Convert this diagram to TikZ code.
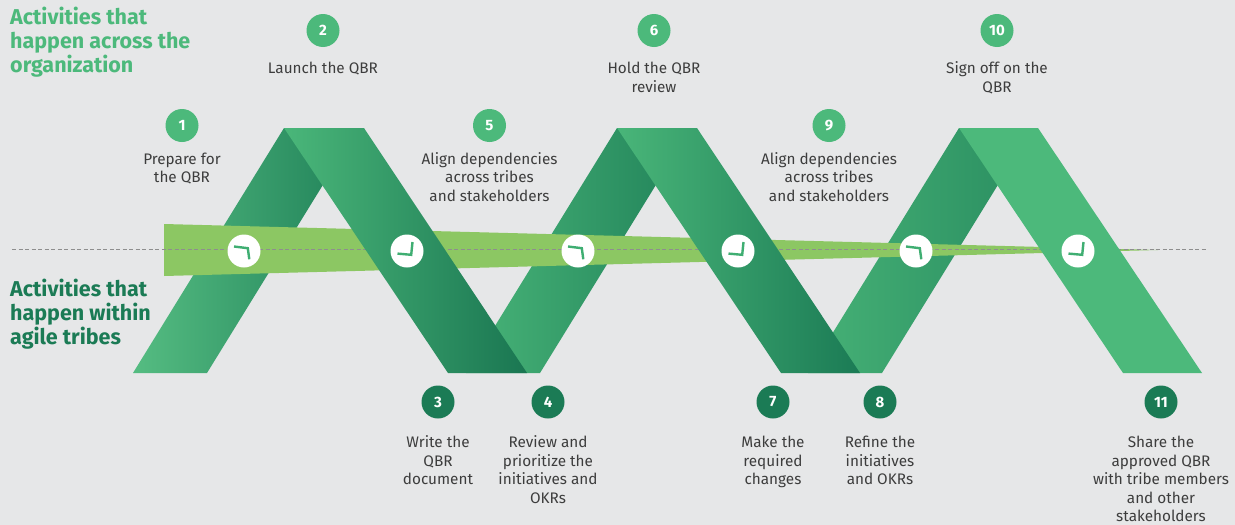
\documentclass[tikz,border=0pt]{standalone}
\usepackage{fontspec}
\setmainfont{Fira Sans}
\definecolor{bg}{HTML}{E6E7E8}
\definecolor{lgreen}{HTML}{4CB97B}
\definecolor{dgreen}{HTML}{1B7B55}
\definecolor{band}{HTML}{8CC763}
\definecolor{txt}{HTML}{3D3D3D}
\definecolor{tickgreen}{HTML}{3FAE72}
\definecolor{dashgray}{HTML}{8E8E8E}
\begin{document}
\begin{tikzpicture}[x=1pt,y=-1pt,
  % multi-line nodes sit on the baseline of their last line
  lbl/.style={font=\fontsize{15.3}{18.6}\selectfont, text=txt, align=center, anchor=base, inner sep=0},
  numtop/.style={circle, fill=lgreen, minimum size=33pt, inner sep=0, text=white,
                 font=\fontsize{15}{15}\selectfont\bfseries},
  numbot/.style={numtop, fill=dgreen},
  heading/.style={font=\fontsize{21.5}{24}\selectfont\bfseries, align=left, anchor=base west, inner sep=0},
  clock/.style={circle, fill=white, minimum size=33pt, inner sep=0},
  tick/.style={draw=tickgreen, line width=2.4pt},
  dashline/.style={draw=dashgray, line width=1pt, dash pattern=on 4pt off 2.5pt}
]
% canvas
\fill[bg] (0,0) rectangle (1235,525);
\useasboundingbox (0,0) rectangle (1235,525);

% rising legs of the ribbon
\shade[left color=lgreen!95!white, right color=dgreen!90!lgreen]
  (133,373) -- (207,373) -- (358,128) -- (284,128) -- cycle;
\shade[left color=lgreen!92!dgreen, right color=dgreen!88!lgreen]
  (466,373) -- (540,373) -- (691,128) -- (617,128) -- cycle;
\shade[left color=lgreen!88!dgreen, right color=dgreen!70!lgreen]
  (808,373) -- (882,373) -- (1033,128) -- (959,128) -- cycle;

% tapering band across the organization
\fill[band] (164,224) -- (1158,250) -- (164,276) -- cycle;
\coordinate (dashL) at (12,249.5);
\coordinate (dashR) at (1207,249.5);
\draw[dashline] (dashL) -- (dashR);

% checkpoints on the rising legs
\foreach \i/\x in {1/244,3/578,5/916}{
  \node[clock] (c\i) at (\x,251) {};
  \draw[tick] ([shift={(-10,-4.5)}]c\i.center) -- ([shift={(3.8,-2.8)}]c\i.center)
              -- ([shift={(5.3,8.3)}]c\i.center);
}

% falling legs of the ribbon
\shade[left color=lgreen!96!dgreen, right color=dgreen!96!black]
  (284,128) -- (364,128) -- (527,373) -- (448,373) -- cycle;
\shade[left color=lgreen!94!dgreen, right color=dgreen]
  (617,128) -- (697,128) -- (860,373) -- (781,373) -- cycle;
\fill[lgreen] (959,128) -- (1038,128) -- (1202,373) -- (1123,373) -- cycle;

% checkpoints on the falling legs
\foreach \i/\x in {2/407,4/738,6/1078}{
  \node[clock] (c\i) at (\x,251) {};
  \draw[tick] ([shift={(5.5,-9)}]c\i.center) -- ([shift={(4.2,3.8)}]c\i.center)
              -- ([shift={(-9.5,2.6)}]c\i.center);
}

% step numbers
\node[numtop] (n1) at (182,125.5) {1};
\node[numtop] (n2) at (323,30.5) {2};
\node[numbot] (n3) at (438,402) {3};
\node[numbot] (n4) at (548,402) {4};
\node[numtop] (n5) at (489.5,125.5) {5};
\node[numtop] (n6) at (654,30.5) {6};
\node[numbot] (n7) at (773,402) {7};
\node[numbot] (n8) at (880,402) {8};
\node[numtop] (n9) at (829,125.5) {9};
\node[numtop] (n10) at (997,30.5) {10};
\node[numbot] (n11) at (1161,402) {11};

% step descriptions (positioned by the baseline of the last line)
\node[lbl] (t1) at (182,182.6) {Prepare for\\the QBR};
\node[lbl] (t2) at (323,73.5) {Launch the QBR};
\node[lbl] (t3) at (438,484.7) {Write the\\QBR\\document};
\node[lbl] (t4) at (548,503.3) {Review and\\prioritize the\\initiatives and\\OKRs};
\node[lbl] (t5) at (489.5,201.2) {Align dependencies\\across tribes\\and stakeholders};
\node[lbl] (t6) at (654,92.1) {Hold the QBR\\review};
\node[lbl] (t7) at (773,484.7) {Make the\\required\\changes};
\node[lbl] (t8) at (880,484.7) {Refine the\\initiatives\\and OKRs};
\node[lbl] (t9) at (829,201.2) {Align dependencies\\across tribes\\and stakeholders};
\node[lbl] (t10) at (997,92.1) {Sign off on the\\QBR};
\node[lbl] (t11) at (1161,521.9) {Share the\\approved QBR\\with tribe members\\and other\\stakeholders};

% headings
\node[heading, text=lgreen] (hOrg) at (10,72) {Activities that\\happen across the\\organization};
\node[heading, text=dgreen] (hTribe) at (10,344) {Activities that\\happen within\\agile tribes};
\end{tikzpicture}
\end{document}
